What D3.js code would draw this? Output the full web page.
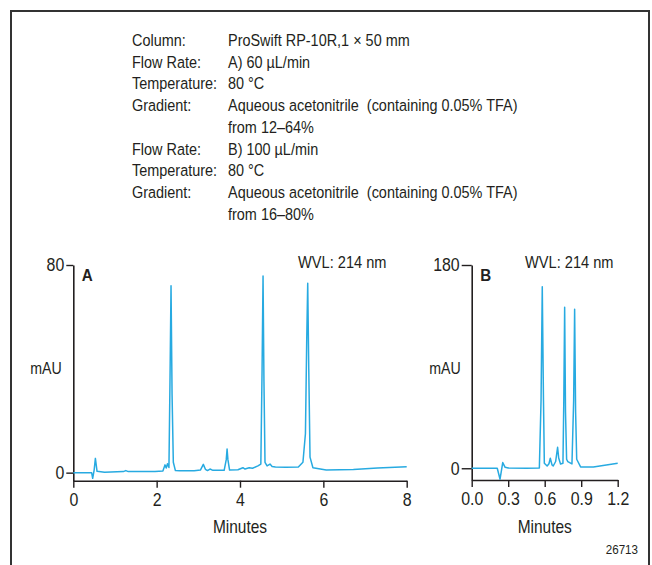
<!DOCTYPE html>
<html>
<head>
<meta charset="utf-8">
<script src="https://cdn.jsdelivr.net/npm/d3@7"></script>
<style>
  body { margin: 0; background: #fff; }
  svg text { font-family: "Liberation Sans", Arial, sans-serif; fill: #231f20; white-space: pre; }
</style>
</head>
<body>
<div id="chart"></div>
<script>
// Conditions text
var condLabels = ["Column:", "Flow Rate:", "Temperature:", "Gradient:", "", "Flow Rate:", "Temperature:", "Gradient:", ""];
var condValues = ["ProSwift RP-10R,1 \u00d7 50 mm", "A) 60 \u00b5L/min", "80 \u00b0C",
  "Aqueous acetonitrile  (containing 0.05% TFA)", "from 12\u201364%",
  "B) 100 \u00b5L/min", "80 \u00b0C", "Aqueous acetonitrile  (containing 0.05% TFA)", "from 16\u201380%"];

// Chromatogram A (minutes, mAU)
var timeA = [0, 0.44, 0.465, 0.50, 0.53, 0.57, 0.75, 1.2, 1.26, 1.32, 1.96, 2.15, 2.2, 2.23, 2.26, 2.295,
  2.32, 2.345, 2.37, 2.40, 2.45, 2.55, 2.9, 3.05, 3.12, 3.17, 3.22, 3.28, 3.35, 3.62, 3.67, 3.69, 3.71, 3.75,
  3.95, 4.07, 4.12, 4.22, 4.3, 4.43, 4.5, 4.53, 4.553, 4.575, 4.60, 4.65, 4.72, 4.77, 4.85, 5.1, 5.4, 5.51,
  5.57, 5.60, 5.625, 5.65, 5.68, 5.75, 6.07, 6.72, 7.3, 8.0];
var mauA = [0, 0, -2.2, 1.0, 5.5, 0.5, 0.2, 0.4, 0.8, 0.4, 0.4, 0.6, 3.0, 1.8, 3.4, 2.0,
  35, 72, 30, 4, 0.8, 0.7, 0.7, 1.0, 3.2, 1.3, 0.8, 1.4, 0.9, 0.9, 5, 9.1, 5, 1.0,
  1.1, 1.9, 1.4, 1.9, 1.7, 2.6, 3.3, 40, 75.8, 35, 4, 2.6, 3.3, 2.4, 2.2, 2.1, 2.2, 4,
  15, 50, 73, 40, 6, 1.9, 1.0, 1.2, 1.8, 2.3];

// Chromatogram B (minutes, mAU)
var timeB = [0, 0.21, 0.233, 0.255, 0.275, 0.30, 0.45, 0.556, 0.57, 0.58, 0.59, 0.597, 0.62, 0.635, 0.646,
  0.66, 0.67, 0.69, 0.706, 0.715, 0.73, 0.75, 0.757, 0.764, 0.771, 0.78, 0.79, 0.824, 0.838, 0.846, 0.854,
  0.863, 0.895, 1.0, 1.2];
var mauB = [0, 0, -9.7, 5.0, 0.8, 0.2, 0, 0.3, 60, 160.8, 60, 4.4, 2, 4, 8.9,
  3, 2, 6, 18.6, 9, 3.8, 4.4, 60, 142.5, 50, 8, 5.9, 3.8, 60, 140.8, 50,
  8, 1.2, 1.2, 4.4];

var ticksAX = [0, 2, 4, 6, 8];
var ticksAY = [0, 80];
var ticksBX = [0, 0.3, 0.6, 0.9, 1.2];
var ticksBY = [0, 180];

var svgWidth = 652;
var svgHeight = 565;
var lineColor = "#27aae1";
var axisColor = "#231f20";
var narrow = 0.86; // condensed look

var svg = d3.select("#chart")
  .append("svg")
  .attr("width", svgWidth)
  .attr("height", svgHeight);

// text helper: squeezes the glyphs horizontally around the anchor point
function addText(parent, x, y, str, size, anchor, sx) {
  return parent.append("text")
    .attr("transform", `translate(${x}, ${y}) scale(${sx || narrow}, 1)`)
    .attr("font-size", size)
    .attr("text-anchor", anchor || "start")
    .text(str);
}

// Frame (open at the bottom)
svg.append("path")
  .attr("d", "M11,570 L11,11 L649,11 L649,570")
  .attr("fill", "none")
  .attr("stroke", "#333")
  .attr("stroke-width", 2);

// Conditions block
var cond = svg.append("g");
condLabels.forEach(function(t, i) {
  var yy = 46 + i * 21.7;
  addText(cond, 132, yy, t, "16.8px");
  addText(cond, 228, yy, condValues[i], "16.8px");
});

function drawPanel(opts) {
  var x = d3.scaleLinear().domain(opts.xDomain).range(opts.xRange);
  var y = d3.scaleLinear().domain(opts.yDomain).range(opts.yRange);
  var g = svg.append("g");

  var xAxis = g.append("g")
    .attr("transform", `translate(0, ${opts.yRange[0]})`)
    .call(d3.axisBottom(x).tickValues(opts.xTicks).tickSize(7).tickSizeOuter(0).tickPadding(5)
      .tickFormat(opts.xFormat));
  var yAxis = g.append("g")
    .attr("transform", `translate(${opts.xRange[0]}, 0)`)
    .call(d3.axisLeft(y).tickValues(opts.yTicks).tickSize(opts.yTickSize).tickSizeOuter(0).tickPadding(2));

  [xAxis, yAxis].forEach(function(a) {
    a.select(".domain").attr("stroke", axisColor).attr("stroke-width", 1.6);
    a.selectAll(".tick line").attr("stroke", axisColor).attr("stroke-width", 1.4);
    a.selectAll(".tick text")
      .attr("fill", axisColor)
      .attr("font-family", null)
      .attr("font-size", "18.5px")
      .attr("x", function() { return +d3.select(this).attr("x") / narrow; })
      .attr("transform", `scale(${narrow}, 1)`);
  });

  var pts = opts.time.map(function(t, i) { return [t, opts.mau[i]]; });
  g.append("path")
    .datum(pts)
    .attr("fill", "none")
    .attr("stroke", lineColor)
    .attr("stroke-width", 1.5)
    .attr("stroke-linejoin", "round")
    .attr("d", d3.line().x(d => x(d[0])).y(d => y(d[1])));

  addText(g, opts.xRange[0] + 8.5, 281, opts.letter, "16px", "start", 0.95).style("font-weight", "bold");
  addText(g, opts.wvlX, 268, "WVL: 214 nm", "17px");
  addText(g, opts.mauX, 374, "mAU", "16.5px", "middle");
  addText(g, (opts.xRange[0] + opts.xRange[1]) / 2, 533, "Minutes", "18px", "middle");
}

drawPanel({
  time: timeA, mau: mauA, letter: "A",
  xDomain: [0, 8], xRange: [73.3, 406.7], xTicks: ticksAX, xFormat: d3.format("d"),
  yDomain: [-3.1, 80], yRange: [480.7, 265], yTicks: ticksAY, yTickSize: 7,
  wvlX: 298, mauX: 46
});

drawPanel({
  time: timeB, mau: mauB, letter: "B",
  xDomain: [0, 1.2], xRange: [471.7, 617.7], xTicks: ticksBX, xFormat: d3.format(".1f"),
  yDomain: [-10.4, 180], yRange: [480, 265], yTicks: ticksBY, yTickSize: 10,
  wvlX: 525, mauX: 445
});

addText(svg, 638, 554, "26713", "13.5px", "end");
</script>
</body>
</html>
